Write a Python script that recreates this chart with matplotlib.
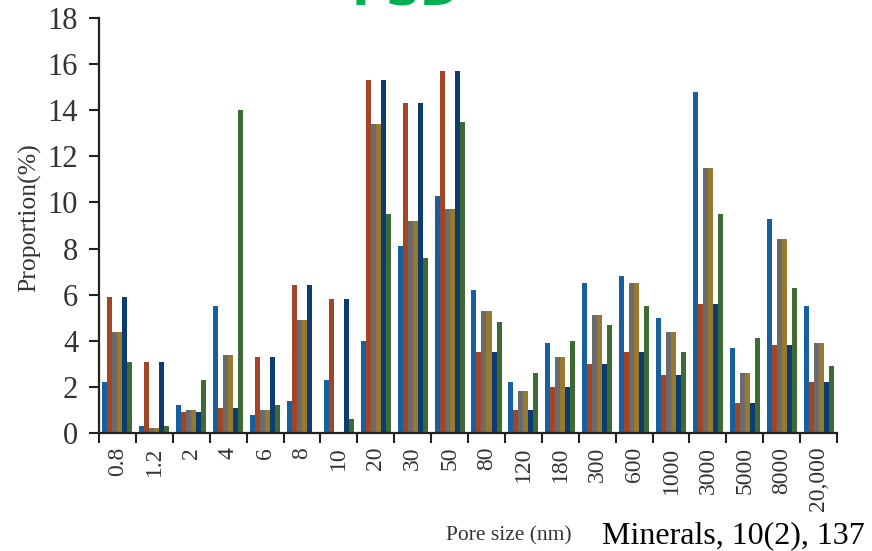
import matplotlib
matplotlib.use("Agg")
import matplotlib.pyplot as plt
import numpy as np

categories = ["0.8", "1.2", "2", "4", "6", "8", "10", "20", "30", "50", "80",
              "120", "180", "300", "600", "1000", "3000", "5000", "8000", "20,000"]

s_blue = [2.2, 0.3, 1.2, 5.5, 0.8, 1.4, 2.3, 4.0, 8.1, 10.3, 6.2, 2.2, 3.9, 6.5, 6.8, 5.0, 14.8, 3.7, 9.3, 5.5]
s_orange = [5.9, 3.1, 0.9, 1.1, 3.3, 6.4, 5.8, 15.3, 14.3, 15.7, 3.5, 1.0, 2.0, 3.0, 3.5, 2.5, 5.6, 1.3, 3.8, 2.2]
s_gray = [4.4, 0.2, 1.0, 3.4, 1.0, 4.9, 0.0, 13.4, 9.2, 9.7, 5.3, 1.8, 3.3, 5.1, 6.5, 4.4, 11.5, 2.6, 8.4, 3.9]
s_tan = [4.4, 0.2, 1.0, 3.4, 1.0, 4.9, 0.0, 13.4, 9.2, 9.7, 5.3, 1.8, 3.3, 5.1, 6.5, 4.4, 11.5, 2.6, 8.4, 3.9]
s_navy = [5.9, 3.1, 0.9, 1.1, 3.3, 6.4, 5.8, 15.3, 14.3, 15.7, 3.5, 1.0, 2.0, 3.0, 3.5, 2.5, 5.6, 1.3, 3.8, 2.2]
s_green = [3.1, 0.3, 2.3, 14.0, 1.2, 0.0, 0.6, 9.5, 7.6, 13.5, 4.8, 2.6, 4.0, 4.7, 5.5, 3.5, 9.5, 4.1, 6.3, 2.9]

series = [s_blue, s_orange, s_gray, s_tan, s_navy, s_green]
colors = ["#17609f", "#a24526", "#6b6b6b", "#977a2e", "#0d3b74", "#3e6a33"]

plt.rcParams['font.family'] = ['Liberation Serif', 'DejaVu Serif']

fig = plt.figure(figsize=(8.72, 5.51), dpi=100)
ax = fig.add_axes([0.1135, 0.2142, 0.8465, 0.7531])

x = np.arange(len(categories))
bw = 0.136
n = len(series)
for k, (vals, c) in enumerate(zip(series, colors)):
    ax.bar(x + (k - (n - 1) / 2) * bw, vals, width=bw, color=c, linewidth=0)

ax.set_xlim(-0.5, len(categories) - 0.5)
ax.set_ylim(0, 18)
ax.set_yticks(np.arange(0, 19, 2))
ax.set_xticks(x)
ax.set_xticklabels(categories, rotation=90, fontsize=17, va='top', ha='center')
ax.set_xticks(np.arange(-0.5, len(categories), 1.0), minor=True)
ax.tick_params(axis='x', which='major', length=0, pad=10)
ax.tick_params(axis='x', which='minor', length=7, width=1.5, color='#222222', direction='out')
ax.tick_params(axis='y', length=7, width=1.5, color='#222222', labelsize=22, pad=8)
for lab in ax.get_yticklabels():
    lab.set_color('#333333')
for lab in ax.get_xticklabels():
    lab.set_color('#333333')

for s in ['top', 'right']:
    ax.spines[s].set_visible(False)
for s in ['left', 'bottom']:
    ax.spines[s].set_linewidth(1.6)
    ax.spines[s].set_color('#222222')

fig.text(30 / 872, 1 - 218 / 551, "Proportion(%)", rotation=90, fontsize=18.5,
         ha='center', va='center', color='#333333')
fig.text(509 / 872, 1 - 540 / 551, "Pore size (nm)", fontsize=15.5,
         ha='center', va='baseline', color='#333333')
fig.text(602 / 872, 1 - 543 / 551, "Minerals, 10(2), 137", fontsize=23,
         ha='left', va='baseline', color='black')
fig.text(406 / 872, 1 - 5 / 551, "PSD", fontsize=34, fontweight='bold',
         family='DejaVu Sans', color='#00b050', ha='center', va='baseline')

fig.savefig("out.png", dpi=100)
